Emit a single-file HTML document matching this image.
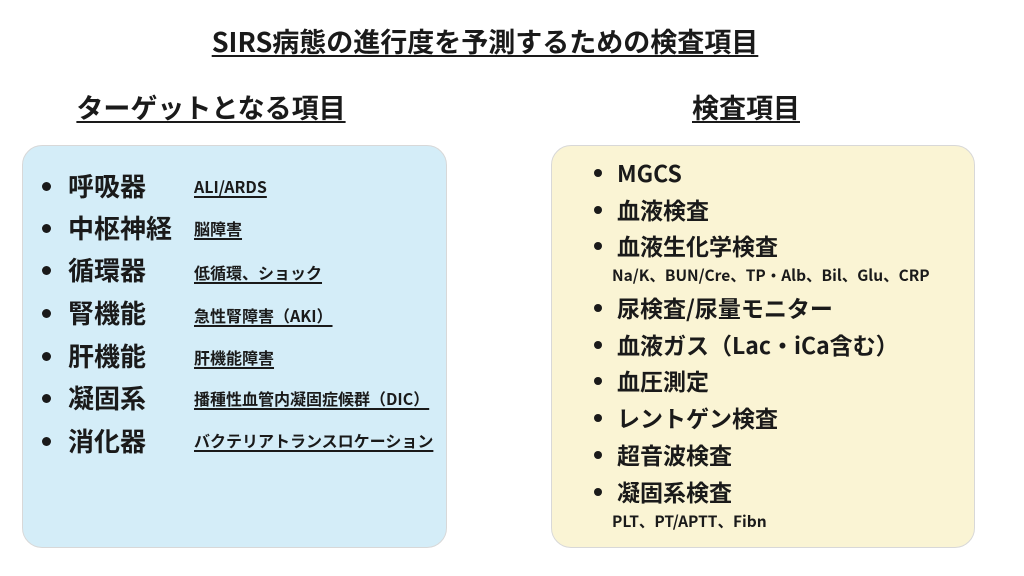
<!DOCTYPE html>
<html><head><meta charset="utf-8"><style>
body{margin:0;width:1024px;height:576px;background:#fff;position:relative;overflow:hidden;font-family:"Noto Sans CJK JP","Liberation Sans",sans-serif;color:#1a1a1a;font-weight:bold}
.a{position:absolute;white-space:nowrap;line-height:1}
.u{text-decoration:underline;text-underline-offset:3px;text-decoration-thickness:1.5px}
.box{position:absolute;border-radius:20px;border:1.5px solid #d8d8d8}
.d{position:absolute;width:9px;height:9px;border-radius:50%;background:#1a1a1a}
</style></head><body>
<div class="a u" style="left:0;width:970px;text-align:center;top:27px;font-size:27px">SIRS病態の進行度を予測するための検査項目</div>
<div class="a u" style="left:0;width:422px;text-align:center;top:93px;font-size:27px">ターゲットとなる項目</div>
<div class="a u" style="left:560px;width:372px;text-align:center;top:93px;font-size:27px">検査項目</div>
<div class="box" style="left:22px;top:145px;width:423px;height:401px;background:#d4edf8"></div>
<div class="box" style="left:551px;top:145px;width:422px;height:401px;background:#faf4d4"></div>

<div class="d" style="left:42px;top:182px"></div><div class="a" style="left:68px;top:173px;font-size:26px">呼吸器</div><div class="a u" style="left:194px;top:178px;font-size:16px">ALI/ARDS</div>
<div class="d" style="left:42px;top:224px"></div><div class="a" style="left:68px;top:215px;font-size:26px">中枢神経</div><div class="a u" style="left:194px;top:220px;font-size:16px">脳障害</div>
<div class="d" style="left:42px;top:266px"></div><div class="a" style="left:68px;top:257px;font-size:26px">循環器</div><div class="a u" style="left:194px;top:264px;font-size:16px">低循環、ショック</div>
<div class="d" style="left:42px;top:309px"></div><div class="a" style="left:68px;top:300px;font-size:26px">腎機能</div><div class="a u" style="left:194px;top:307px;font-size:16px">急性腎障害（AKI）</div>
<div class="d" style="left:42px;top:352px"></div><div class="a" style="left:68px;top:343px;font-size:26px">肝機能</div><div class="a u" style="left:194px;top:349px;font-size:16px">肝機能障害</div>
<div class="d" style="left:42px;top:394px"></div><div class="a" style="left:68px;top:385px;font-size:26px">凝固系</div><div class="a u" style="left:194px;top:390px;font-size:16px">播種性血管内凝固症候群（DIC）</div>
<div class="d" style="left:42px;top:437px"></div><div class="a" style="left:68px;top:428px;font-size:26px">消化器</div><div class="a u" style="left:194px;top:432px;font-size:16px">バクテリアトランスロケーション</div>

<div class="d" style="left:594px;top:169px;width:8px;height:8px"></div><div class="a" style="left:617px;top:161px;font-size:23px">MGCS</div>
<div class="d" style="left:594px;top:206px;width:8px;height:8px"></div><div class="a" style="left:617px;top:198px;font-size:23px">血液検査</div>
<div class="d" style="left:594px;top:242px;width:8px;height:8px"></div><div class="a" style="left:617px;top:234px;font-size:23px">血液生化学検査</div>
<div class="a" style="left:612px;top:268px;font-size:15.5px">Na/K、BUN/Cre、TP・Alb、Bil、Glu、CRP</div>
<div class="d" style="left:594px;top:304px;width:8px;height:8px"></div><div class="a" style="left:617px;top:296px;font-size:23px">尿検査/尿量モニター</div>
<div class="d" style="left:594px;top:341px;width:8px;height:8px"></div><div class="a" style="left:617px;top:333px;font-size:23px">血液ガス（Lac・iCa含む）</div>
<div class="d" style="left:594px;top:377px;width:8px;height:8px"></div><div class="a" style="left:617px;top:369px;font-size:23px">血圧測定</div>
<div class="d" style="left:594px;top:414px;width:8px;height:8px"></div><div class="a" style="left:617px;top:406px;font-size:23px">レントゲン検査</div>
<div class="d" style="left:594px;top:451px;width:8px;height:8px"></div><div class="a" style="left:617px;top:443px;font-size:23px">超音波検査</div>
<div class="d" style="left:594px;top:488px;width:8px;height:8px"></div><div class="a" style="left:617px;top:480px;font-size:23px">凝固系検査</div>
<div class="a" style="left:612px;top:514px;font-size:15.5px">PLT、PT/APTT、Fibn</div>
</body></html>
